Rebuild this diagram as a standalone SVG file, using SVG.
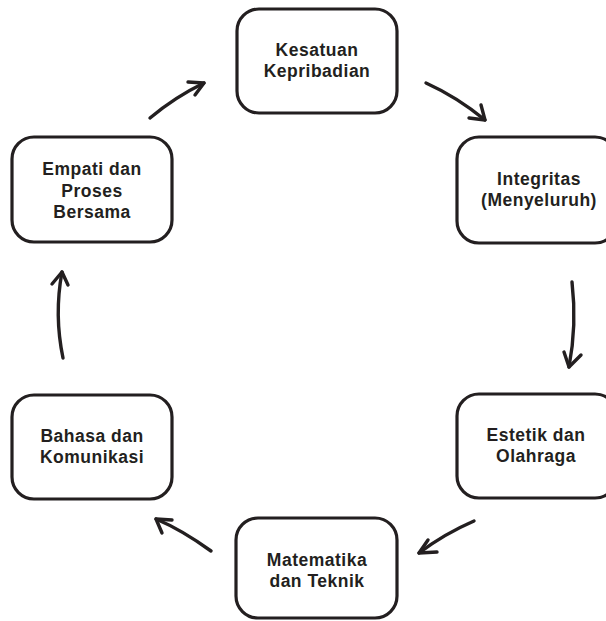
<svg xmlns="http://www.w3.org/2000/svg" width="606" height="621" viewBox="0 0 606 621">
<style>
.box{fill:#fff;stroke:#231f20;stroke-width:3.2}
.lbl{font-family:"Liberation Sans",Arial,sans-serif;font-weight:bold;font-size:17.5px;letter-spacing:0.5px;fill:#231f20;text-anchor:middle}
.con{fill:none;stroke:#231f20;stroke-width:3.4;stroke-linecap:round;stroke-linejoin:round}
</style>
<rect width="606" height="621" fill="#fff"/>
<g id="kesatuan">
<rect class="box" x="237" y="9" width="160" height="104" rx="22"/>
<text class="lbl" x="317" y="56">Kesatuan</text>
<text class="lbl" x="317" y="77">Kepribadian</text>
</g>
<g id="integritas">
<rect class="box" x="457" y="137" width="160" height="106" rx="22"/>
<text class="lbl" x="539" y="185">Integritas</text>
<text class="lbl" x="539" y="206">(Menyeluruh)</text>
</g>
<g id="estetik">
<rect class="box" x="457" y="394" width="160" height="104" rx="22"/>
<text class="lbl" x="536" y="441">Estetik dan</text>
<text class="lbl" x="536" y="462">Olahraga</text>
</g>
<g id="matematika">
<rect class="box" x="236" y="518" width="161" height="100" rx="22"/>
<text class="lbl" x="317" y="566">Matematika</text>
<text class="lbl" x="317" y="587">dan Teknik</text>
</g>
<g id="bahasa">
<rect class="box" x="12" y="395" width="160" height="104" rx="22"/>
<text class="lbl" x="92" y="442">Bahasa dan</text>
<text class="lbl" x="92" y="463">Komunikasi</text>
</g>
<g id="empati">
<rect class="box" x="12" y="137" width="160" height="105" rx="22"/>
<text class="lbl" x="92" y="175">Empati dan</text>
<text class="lbl" x="92" y="196.5">Proses</text>
<text class="lbl" x="92" y="218">Bersama</text>
</g>
<g id="connectors">
<path class="con" d="M426,83 Q457,97 485,120"/>
<polyline class="con" points="481,105 485,120 469,118"/>
<path class="con" d="M572,282 Q577,325 569,367"/>
<polyline class="con" points="564,352 569,367 581,355"/>
<path class="con" d="M474,521 Q444,534 419,553"/>
<polyline class="con" points="428,540 419,553 437,552"/>
<path class="con" d="M211,551 Q182,530 156,519"/>
<polyline class="con" points="172,520 156,519 162,533"/>
<path class="con" d="M63,358 Q54,315 62,272"/>
<polyline class="con" points="52,284 62,272 68,285"/>
<path class="con" d="M150,118 Q175,97 204,83"/>
<polyline class="con" points="188,82 204,83 195,95"/>
</g>
</svg>
